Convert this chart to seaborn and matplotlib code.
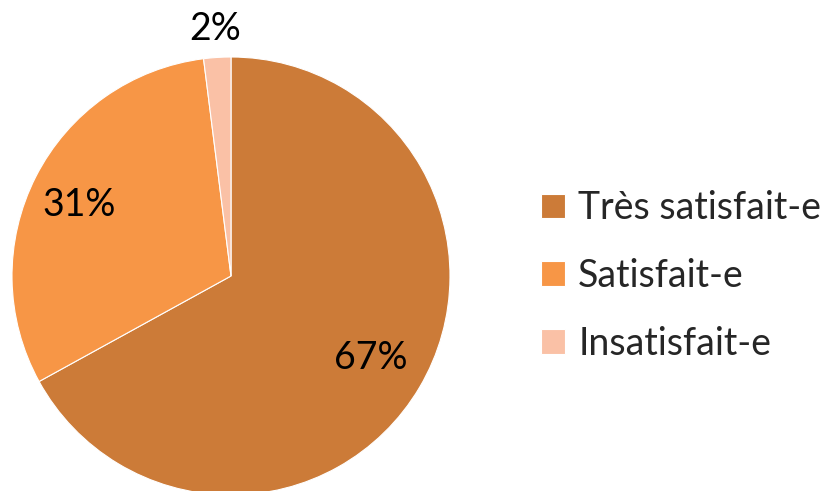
import numpy as np
import matplotlib
matplotlib.use("Agg")
import matplotlib.pyplot as plt
import seaborn as sns

categories = ["Très satisfait-e", "Satisfait-e", "Insatisfait-e"]
values = [67, 31, 2]
pct_labels = ["67%", "31%", "2%"]

sns.set_theme(style="white")
plt.rcParams['font.family'] = ['Lato', 'DejaVu Sans']
colors = sns.color_palette(["#CC7B38", "#F79646", "#FAC1A6"])

W, H = 829, 491
fig = plt.figure(figsize=(W / 100, H / 100), dpi=100)
cx, cy, r = 231, 276, 219
ax = fig.add_axes([(cx - r) / W, (H - cy - r) / H, 2 * r / W, 2 * r / H])
wedges, _ = ax.pie(values, colors=colors, startangle=90, counterclock=False,
                   radius=1.0, wedgeprops=dict(edgecolor="white", linewidth=0.8))
ax.set_xlim(-1, 1)
ax.set_ylim(-1, 1)
ax.set_aspect("equal")
ax.axis("off")

dists = [0.74, 0.78, 1.13]
for w, lab, d in zip(wedges, pct_labels, dists):
    mid = np.deg2rad((w.theta1 + w.theta2) / 2)
    ax.text(d * np.cos(mid), d * np.sin(mid) - 0.03 * (lab == "31%"), lab,
            ha="center", va="center", fontsize=27, color="black", clip_on=False)

fig.legend(wedges, categories, loc="center left", bbox_to_anchor=(541 / W, (H - 276) / H),
           frameon=False, fontsize=27, handlelength=0.64, handleheight=0.64,
           handletextpad=0.35, labelspacing=0.85, borderaxespad=0, borderpad=0)

fig.savefig("out.png", dpi=100)
